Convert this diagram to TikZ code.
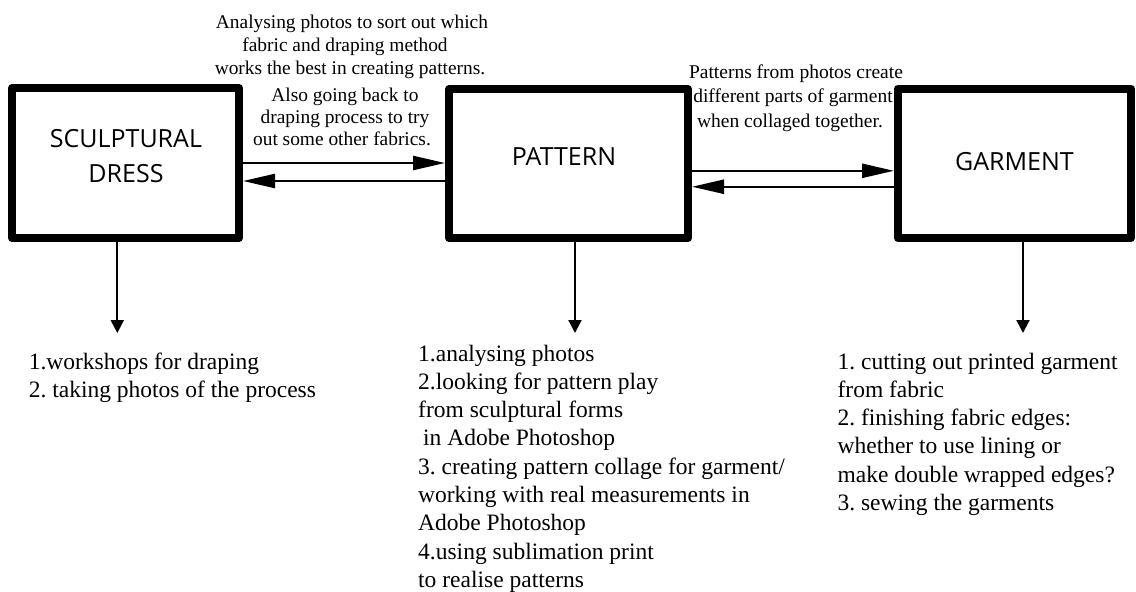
\documentclass[tikz,border=0pt]{standalone}
\usepackage{fontspec}
\setmainfont{Liberation Serif}
\newfontfamily\boxfont{Open Sans}
\usetikzlibrary{arrows.meta}
\frenchspacing
\begin{document}
\begin{tikzpicture}[x=1pt,y=-1pt,
  box/.style={draw, line width=8pt, line join=round, rectangle, inner sep=0pt},
  boxlabel/.style={font={\boxfont\fontsize{25}{35}\selectfont}, align=center, inner sep=0pt, anchor=base},
  harrow/.style={line width=2.4pt, -{Triangle[length=32pt,width=14pt]}},
  varrow/.style={line width=2pt, -{Triangle[length=13pt,width=13pt]}},
  note/.style={inner sep=0pt, align=left, anchor=base west, font={\fontsize{23.5}{28.3}\selectfont}},
  topnote/.style={inner sep=0pt, align=center, anchor=base}]
\useasboundingbox (0,0) rectangle (1136,592);

% boxes
\node[box, minimum width=227pt, minimum height=150pt] (b1) at (125.5,163) {};
\node[box, minimum width=239pt, minimum height=149pt] (b2) at (568.5,163.5) {};
\node[box, minimum width=233pt, minimum height=149.5pt] (b3) at (1014.5,163.25) {};

% box labels (base = last line)
\node[boxlabel] (l1) at (126,182) {SCULPTURAL\\DRESS};
\node[boxlabel] (l2) at (564,165) {PATTERN};
\node[boxlabel] (l3) at (1014.5,170.5) {GARMENT};

% horizontal arrows
\draw[harrow] (b1.east) -- (b1.east -| b2.west);
\coordinate (p1) at ([yshift=-17.5pt]b2.west);
\draw[harrow] (p1) -- (p1 -| b1.east);
\coordinate (p2) at ([yshift=-7.3pt]b2.east);
\draw[harrow] (p2) -- (p2 -| b3.west);
\coordinate (p3) at ([yshift=-23.5pt]b3.west);
\draw[harrow] (p3) -- (p3 -| b2.east);

% down arrows
\coordinate (d1) at (117.3,333);
\coordinate (d2) at (575,333);
\coordinate (d3) at (1023,333);
\draw[varrow] (d1 |- b1.south) -- (d1);
\draw[varrow] (d2 |- b2.south) -- (d2);
\draw[varrow] (d3 |- b3.south) -- (d3);

% top notes (base = last line)
\node[topnote, font={\fontsize{19.4}{23.3}\selectfont}] (t1) at (345,145.3) {%
\hspace*{14pt}Analysing photos to sort out which\\
fabric and draping method\hspace*{10pt}\\
\hspace*{10pt}works the best in creating patterns.\\[3.3pt]
Also going back to\hspace*{30pt}\\[-1pt]
draping process to try\hspace*{8pt}\\[-1.5pt]
out some other fabrics.\hspace*{6pt}};

\node[topnote, font={\fontsize{19.5}{24.3}\selectfont}] (t2) at (793,127.1) {%
\hspace*{6pt}Patterns from photos create\\
different parts of garment\\
when collaged together.\hspace*{6pt}};

% bottom notes (base = last line)
\node[note] (n1) at (28.6,397.3) {1.workshops for draping\\
2. taking photos of the process};

\node[note] (n2) at (418,587.4) {1.analysing photos\\
2.looking for pattern play\\
from sculptural forms\\
\hspace*{5pt}in Adobe Photoshop\\
3. creating pattern collage for garment/\\
working with real measurements in\\
Adobe Photoshop\\
4.using sublimation print\\
to realise patterns};

\node[note] (n3) at (837.4,510.5) {1. cutting out printed garment\\
from fabric\\
2. finishing fabric edges:\\
whether to use lining or\\
make double wrapped edges?\\
3. sewing the garments};
\end{tikzpicture}
\end{document}
